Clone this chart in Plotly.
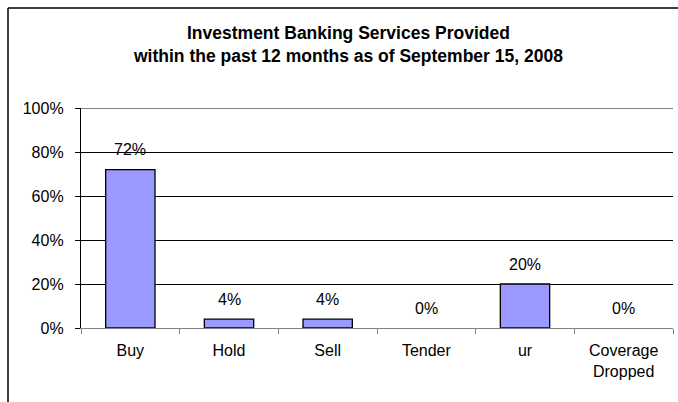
import plotly.graph_objects as go

categories = ["Buy", "Hold", "Sell", "Tender", "ur", "Coverage<br>Dropped"]
values = [72, 4, 4, 0, 20, 0]
value_labels = ["72%", "4%", "4%", "0%", "20%", "0%"]
title_lines = ["Investment Banking Services Provided",
               "within the past 12 months as of September 15, 2008"]
y_ticks = [0, 20, 40, 60, 80, 100]
y_tick_labels = ["0%", "20%", "40%", "60%", "80%", "100%"]

FONT = "Liberation Sans, Arial, sans-serif"

# plot-area pixel geometry (678x402 page)
L, R, T, B = 81, 5, 108, 74
W = 678 - L - R
H = 402 - T - B

def px_x(p):
    return (p - L) / W

def px_y(p):
    return (402 - B - p) / H

fig = go.Figure()
fig.add_trace(go.Bar(
    x=categories, y=values, width=0.5,
    marker=dict(color="#9999FF",
                line=dict(color="#000000", width=[1.3 if v > 0 else 0 for v in values])),
    hoverinfo="skip",
))

annotations = []
for c, v, t in zip(categories, values, value_labels):
    annotations.append(dict(x=c, y=v, xref="x", yref="y", text=t, showarrow=False,
                            yanchor="middle", yshift=20,
                            font=dict(family=FONT, size=16, color="#000000")))
for i, line in enumerate(title_lines):
    annotations.append(dict(x=px_x(348), y=px_y([33, 56][i]), xref="paper", yref="paper",
                            text="<b>" + line + "</b>", showarrow=False,
                            xanchor="center", yanchor="middle",
                            font=dict(family=FONT, size=17.5, color="#000000")))

shapes = [
    dict(type="line", xref="paper", yref="paper", x0=px_x(8), x1=px_x(678),
         y0=px_y(8), y1=px_y(8), line=dict(color="#000000", width=1.5)),
    dict(type="line", xref="paper", yref="paper", x0=px_x(8), x1=px_x(8),
         y0=px_y(8), y1=px_y(402), line=dict(color="#000000", width=1.5)),
    # top gridline (at the top edge of the value axis)
    dict(type="line", xref="paper", yref="y", x0=0, x1=1,
         y0=y_ticks[-1], y1=y_ticks[-1], line=dict(color="#000000", width=1.2)),
]

fig.update_layout(
    width=678, height=402,
    margin=dict(l=L, r=R, t=T, b=B, pad=0),
    paper_bgcolor="#FFFFFF", plot_bgcolor="#FFFFFF",
    showlegend=False,
    font=dict(family=FONT, size=16, color="#000000"),
    annotations=annotations,
    shapes=shapes,
)
fig.update_xaxes(
    type="category", range=[-0.5, 5.5],
    showline=True, linecolor="#808080", linewidth=1.3,
    ticks="outside", tickson="boundaries", ticklen=5, tickcolor="#808080", tickwidth=1.3,
    showgrid=False, zeroline=False,
    tickfont=dict(family=FONT, size=16, color="#000000"),
    ticklabelstandoff=8,
)
fig.update_yaxes(
    range=[0, 100], tickvals=y_ticks, ticktext=y_tick_labels,
    showline=True, linecolor="#000000", linewidth=1.3,
    ticks="outside", ticklen=5, tickcolor="#000000", tickwidth=1.3,
    showgrid=True, gridcolor="#000000", gridwidth=1.2,
    zeroline=False,
    tickfont=dict(family=FONT, size=16, color="#000000"),
    ticklabelstandoff=8,
)

fig.write_html(
    "out.html",
    config={"displayModeBar": False},
    post_script="document.body.style.margin='0';document.body.style.overflow='hidden';",
)
